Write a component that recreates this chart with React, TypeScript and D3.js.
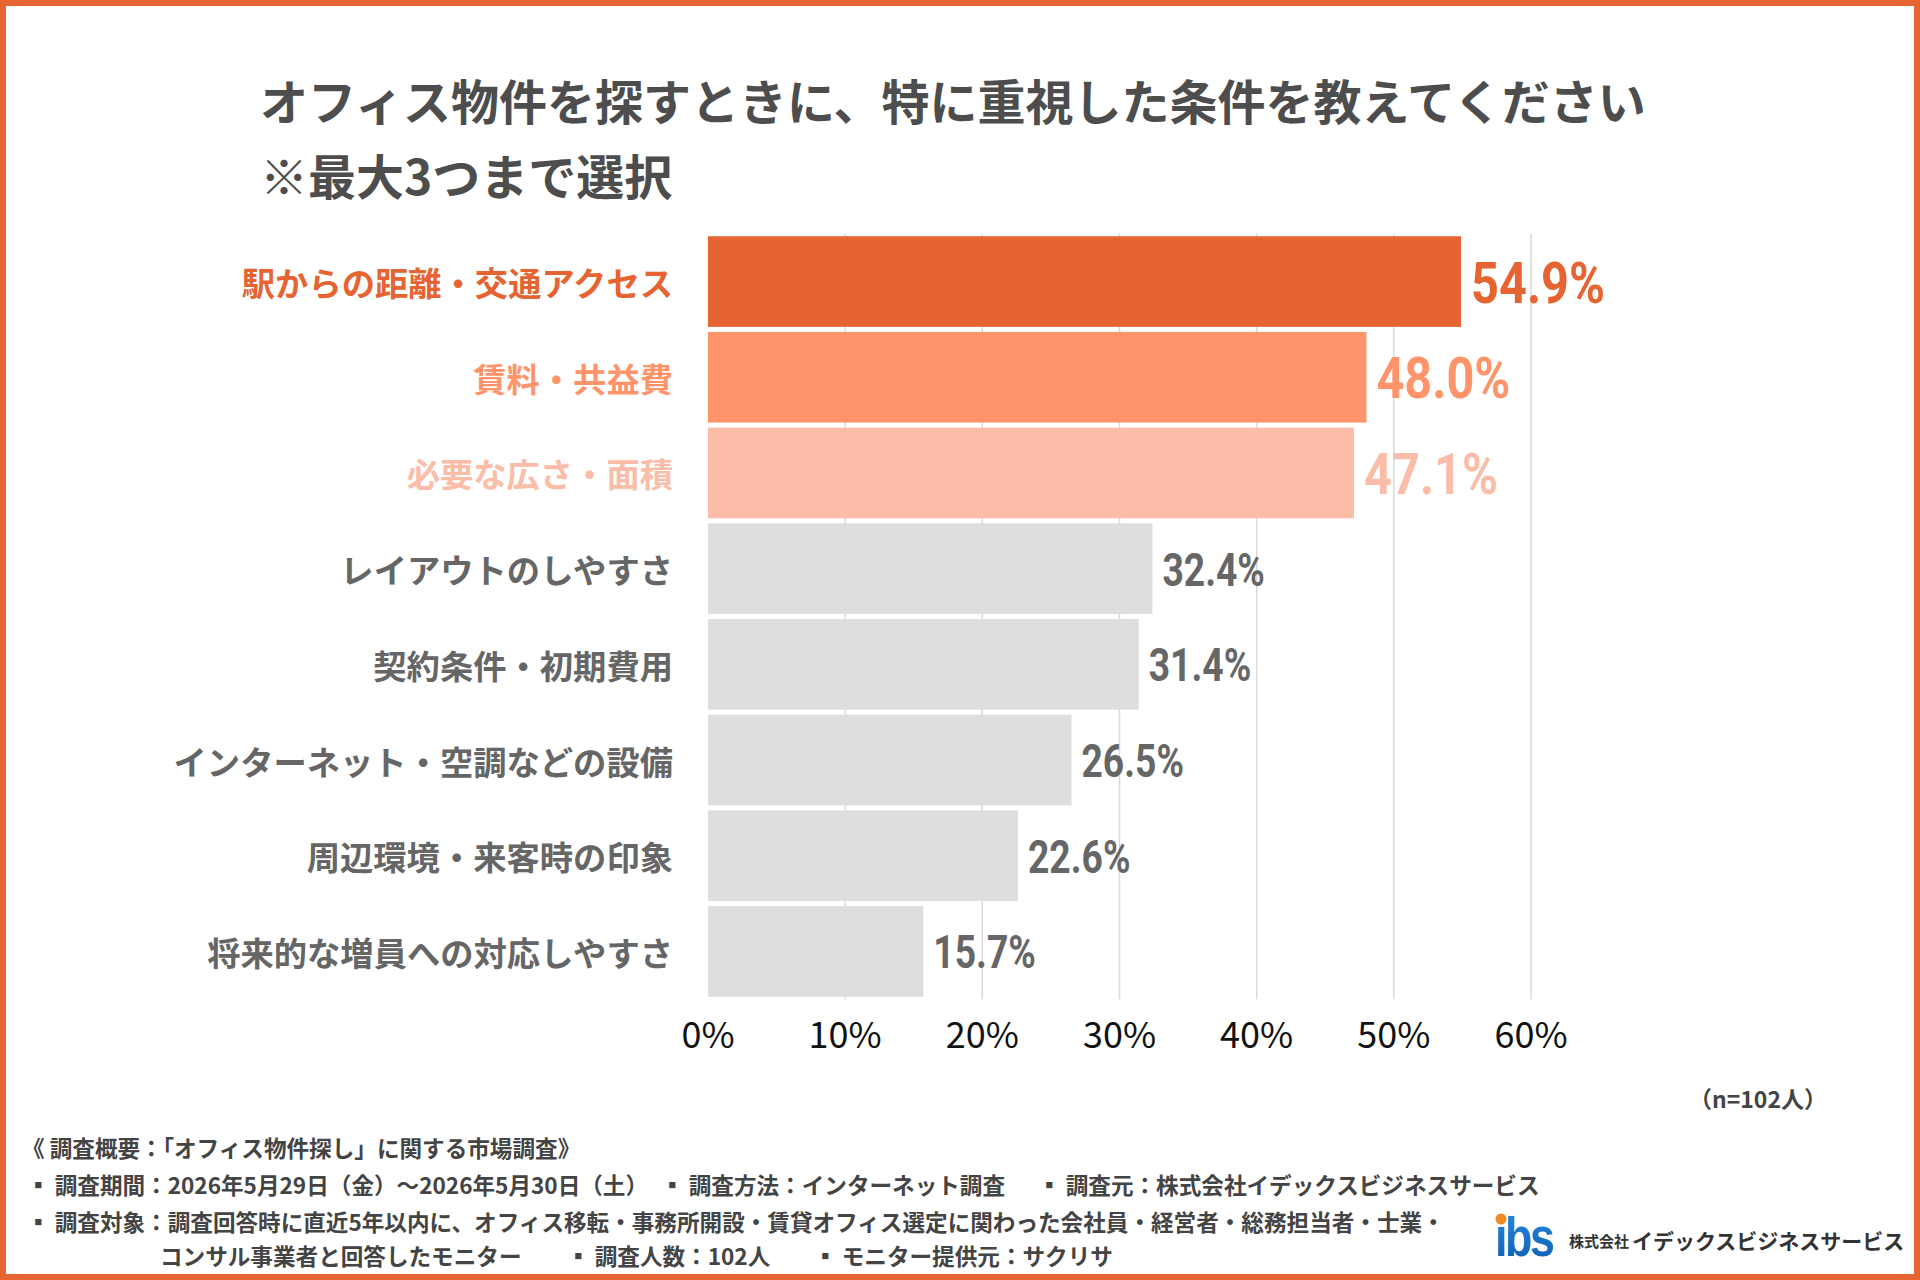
import * as d3 from "d3";

const categories = [
  "駅からの距離・交通アクセス",
  "賃料・共益費",
  "必要な広さ・面積",
  "レイアウトのしやすさ",
  "契約条件・初期費用",
  "インターネット・空調などの設備",
  "周辺環境・来客時の印象",
  "将来的な増員への対応しやすさ",
];
const values = [54.9, 48.0, 47.1, 32.4, 31.4, 26.5, 22.6, 15.7];
const ticks = [0, 10, 20, 30, 40, 50, 60];

// top three get the orange ramp, the rest stay grey
const barColors = ["#E66332", "#FF946B", "#FBBCA8"];
const labelColors = ["#E66332", "#FF946B", "#FBBCA8"];
const GREY_BAR = "#DEDEDE";
const GREY_TEXT = "#666666";

const titleLines = [
  "オフィス物件を探すときに、特に重視した条件を教えてください",
  "※最大3つまで選択",
];

const footerLines: { x: number; text: string }[][] = [
  [{ x: 22, text: "《 調査概要：「オフィス物件探し」に関する市場調査》" }],
  [
    { x: 27, text: "▪ 調査期間：2026年5月29日（金）～2026年5月30日（土）" },
    { x: 661, text: "▪ 調査方法：インターネット調査" },
    { x: 1038, text: "▪ 調査元：株式会社イデックスビジネスサービス" },
  ],
  [
    {
      x: 27,
      text: "▪ 調査対象：調査回答時に直近5年以内に、オフィス移転・事務所開設・賃貸オフィス選定に関わった会社員・経営者・総務担当者・士業・",
    },
  ],
  [
    { x: 160, text: "コンサル事業者と回答したモニター" },
    { x: 567, text: "▪ 調査人数：102人" },
    { x: 814, text: "▪ モニター提供元：サクリサ" },
  ],
];
const footerY = [1147, 1184, 1221, 1255];

const W = 1920;
const H = 1280;
const JP = "'Noto Sans CJK JP', 'Noto Sans', sans-serif";
const NUM = "Roboto, 'Noto Sans', sans-serif";

export default function App() {
  const x = d3.scaleLinear().domain([0, 60]).range([708, 1531]);
  const y = d3
    .scaleBand<string>()
    .domain(categories)
    .range([233.7, 999.3])
    .paddingInner(0.053)
    .paddingOuter(0.0265);

  const [y0, y1] = y.range();

  return (
    <svg
      width={W}
      height={H}
      viewBox={`0 0 ${W} ${H}`}
      style={{ position: "absolute", left: 0, top: 0, display: "block" }}
    >
      <rect x={0} y={0} width={W} height={H} fill="#fff" />

      {titleLines.map((t, i) => (
        <text
          key={t}
          x={260}
          y={99 + i * 75}
          dominantBaseline="central"
          fontFamily={JP}
          fontWeight={700}
          fontSize={48}
          fill="#4D4D4D"
        >
          {t}
        </text>
      ))}

      {/* vertical grid, sits behind the bars */}
      {ticks.slice(1).map((t) => (
        <line
          key={t}
          x1={x(t)}
          x2={x(t)}
          y1={y0}
          y2={y1}
          stroke="#D9D9D9"
          strokeWidth={1.5}
        />
      ))}

      {categories.map((c, i) => {
        const top = y(c) ?? 0;
        const mid = top + y.bandwidth() / 2;
        const v = values[i];
        const big = i < 3;
        return (
          <g key={c}>
            <rect
              x={x(0)}
              y={top}
              width={x(v) - x(0)}
              height={y.bandwidth()}
              fill={barColors[i] ?? GREY_BAR}
            />
            <text
              x={673}
              y={mid}
              textAnchor="end"
              dominantBaseline="central"
              fontFamily={JP}
              fontWeight={700}
              fontSize={33.3}
              fill={labelColors[i] ?? GREY_TEXT}
            >
              {c}
            </text>
            {/* condensed value label */}
            <text
              transform={`translate(${x(v) + 10},${mid + 1}) scale(${big ? 0.84 : 0.81},1)`}
              dominantBaseline="central"
              fontFamily={NUM}
              fontWeight={700}
              fontSize={big ? 58 : 46}
              fill={labelColors[i] ?? GREY_TEXT}
            >
              {v.toFixed(1)}%
            </text>
          </g>
        );
      })}

      {ticks.map((t) => (
        <text
          key={t}
          x={x(t)}
          y={1032}
          textAnchor="middle"
          dominantBaseline="central"
          fontFamily={JP}
          fontSize={36}
          fill="#111"
        >
          {t}%
        </text>
      ))}

      <text
        x={1827}
        y={1098}
        textAnchor="end"
        dominantBaseline="central"
        fontFamily={JP}
        fontWeight={700}
        fontSize={23}
        fill="#444"
      >
        （n=102人）
      </text>

      {footerLines.map((line, li) =>
        line.map((seg) => (
          <text
            key={`${li}-${seg.x}`}
            x={seg.x}
            y={footerY[li]}
            dominantBaseline="central"
            fontFamily={JP}
            fontWeight={700}
            fontSize={22.6}
            fill="#444"
          >
            {seg.text}
          </text>
        ))
      )}

      {/* company mark */}
      <defs>
        <linearGradient id="ibsBlue" x1="0" y1="0" x2="0" y2="1">
          <stop offset="0" stopColor="#2C8BE0" />
          <stop offset="1" stopColor="#0B5CB0" />
        </linearGradient>
      </defs>
      <text
        transform="translate(1495,1256) scale(0.8,1)"
        fontFamily="'Liberation Sans', sans-serif"
        fontWeight={700}
        fontSize={56}
        letterSpacing={-3}
        fill="url(#ibsBlue)"
      >
        ıbs
      </text>
      <circle cx={1501} cy={1219} r={5.5} fill="#F08A24" />
      <text
        x={1569}
        y={1240}
        dominantBaseline="central"
        fontFamily={JP}
        fontWeight={700}
        fontSize={15}
        fill="#333"
      >
        株式会社
      </text>
      <text
        x={1632}
        y={1240}
        dominantBaseline="central"
        fontFamily={JP}
        fontWeight={700}
        fontSize={21}
        fill="#333"
      >
        イデックスビジネスサービス
      </text>

      <rect
        x={3}
        y={3}
        width={W - 6}
        height={H - 6}
        fill="none"
        stroke="#E66332"
        strokeWidth={6}
      />
    </svg>
  );
}
